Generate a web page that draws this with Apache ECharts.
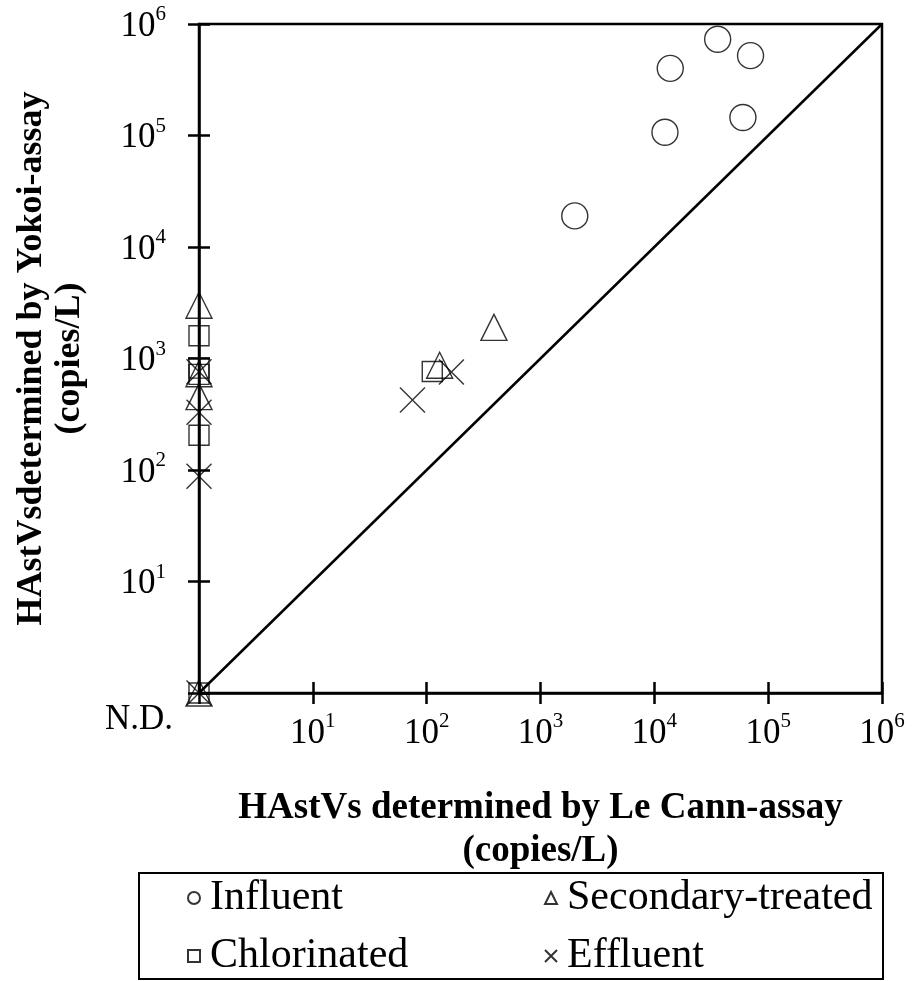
<!DOCTYPE html>
<html>
<head>
<meta charset="utf-8">
<script src="https://cdn.jsdelivr.net/npm/echarts@6/dist/echarts.min.js"></script>
<style>
  html, body { margin: 0; padding: 0; background: #fff; }
  #chart { width: 915px; height: 981px; }
</style>
</head>
<body>
<div id="chart"></div>
<script>
// tick labels: exponent shown as superscript, 10^0 is "N.D."
const tickExponents = [0, 1, 2, 3, 4, 5, 6];
const ndLabel = "N.D.";

// N.D. values are plotted at 1 (the axis minimum)
const influentX = [3.6e4, 7.0e4, 1.38e4, 6.0e4, 1.24e4, 2.0e3];
const influentY = [7.3e5, 5.2e5, 4.0e5, 1.45e5, 1.07e5, 1.9e4];

const secondaryX = [1, 1, 1, 390, 130, 1];
const secondaryY = [3.0e3, 730, 455, 1.9e3, 870, 1];

const chlorinatedX = [1, 1, 1, 1, 112, 1];
const chlorinatedY = [1.6e3, 820, 720, 205, 765, 1];

const effluentX = [1, 1, 1, 165, 75, 1];
const effluentY = [760, 330, 88, 755, 425, 1];

const lineX = [1, 1e6];
const lineY = [1, 1e6];

function pairs(xs, ys) {
  return xs.map(function (x, i) { return [x, ys[i]]; });
}

var chartDom = document.getElementById("chart");
var myChart = echarts.init(chartDom);
var serif = "Liberation Serif";

var xRich = {
  b: { fontFamily: serif, fontSize: 35, color: "#000", lineHeight: 40, verticalAlign: "bottom" },
  s: { fontFamily: serif, fontSize: 21, color: "#000", lineHeight: 26, verticalAlign: "top" }
};
var yRich = {
  b: { fontFamily: serif, fontSize: 35, color: "#000", lineHeight: 40, verticalAlign: "bottom" },
  s: { fontFamily: serif, fontSize: 21, color: "#000", lineHeight: 26, verticalAlign: "top", padding: [0, 7, 0, 0] },
  nd: { fontFamily: serif, fontSize: 35, color: "#000", lineHeight: 40, padding: [54, 0, 0, 0] }
};

function expOf(v) {
  return Math.round(Math.log(v) / Math.LN10);
}

function yLabel(v) {
  var e = expOf(v);
  if (e === tickExponents[0]) return "{nd|" + ndLabel + "}";
  return "{b|10}{s|" + e + "}";
}

function xLabel(v) {
  var e = expOf(v);
  if (e === tickExponents[0]) return "";
  return "{b|10}{s|" + e + "}";
}

var markStyle = { color: "rgba(0,0,0,0)", borderColor: "#000", borderWidth: 1.4 };
var crossPath = "path://M0,0L10,10M10,0L0,10";

var logAxis = {
  type: "log",
  logBase: 10,
  min: 1,
  max: 1e6,
  splitLine: { show: false }
};

// one legend per entry so the 2x2 layout is exact
function legendItem(name, left, top) {
  return {
    left: left, top: top,
    itemWidth: 12, itemHeight: 12,
    textStyle: { fontFamily: serif, fontSize: 42, color: "#000", padding: [0, 0, 0, 5] },
    data: [name]
  };
}

var option = {
  animation: false,
  backgroundColor: "#fff",
  grid: {
    left: 199, right: 33, top: 24, bottom: 288,
    show: true, borderColor: "#000", borderWidth: 2.5,
    backgroundColor: "rgba(0,0,0,0)"
  },
  xAxis: [
    Object.assign({}, logAxis, {
      position: "bottom",
      axisLine: { show: true, lineStyle: { color: "#000", width: 2.5 } },
      axisTick: { show: true, inside: false, length: 11, lineStyle: { color: "#000", width: 2.5 } },
      axisLabel: { margin: 18, formatter: xLabel, rich: xRich },
      name: "HAstVs determined by Le Cann-assay\n(copies/L)",
      nameLocation: "middle",
      nameGap: 94,
      nameTextStyle: { fontFamily: serif, fontWeight: "bold", fontSize: 37, color: "#000", lineHeight: 43 }
    }),
    Object.assign({}, logAxis, {
      position: "bottom",
      axisLine: { show: false },
      axisTick: { show: true, inside: true, length: 11, lineStyle: { color: "#000", width: 2.5 } },
      axisLabel: { show: false }
    })
  ],
  yAxis: [
    Object.assign({}, logAxis, {
      position: "left",
      axisLine: { show: true, lineStyle: { color: "#000", width: 2.5 } },
      axisTick: { show: true, inside: false, length: 11, lineStyle: { color: "#000", width: 2.5 } },
      axisLabel: { margin: 26, formatter: yLabel, rich: yRich },
      name: "HAstVsdetermined by Yokoi-assay\n(copies/L)",
      nameLocation: "middle",
      nameRotate: 90,
      nameGap: 110,
      nameTextStyle: { fontFamily: serif, fontWeight: "bold", fontSize: 36, color: "#000", lineHeight: 38 }
    }),
    Object.assign({}, logAxis, {
      position: "left",
      axisLine: { show: false },
      axisTick: { show: true, inside: true, length: 11, lineStyle: { color: "#000", width: 2.5 } },
      axisLabel: { show: false }
    })
  ],
  legend: [
    legendItem("Influent", 182, 872),
    legendItem("Chlorinated", 182, 930),
    legendItem("Secondary-treated", 539, 872),
    legendItem("Effluent", 539, 930)
  ],
  graphic: [
    {
      type: "rect",
      shape: { x: 139, y: 873, width: 744, height: 106 },
      style: { fill: "none", stroke: "#000", lineWidth: 2 },
      z: 10
    }
  ],
  series: [
    {
      name: "1:1",
      type: "line",
      data: pairs(lineX, lineY),
      symbol: "none",
      lineStyle: { color: "#000", width: 2.5 },
      z: 1
    },
    {
      name: "Influent",
      type: "scatter",
      symbol: "circle",
      symbolSize: 26,
      itemStyle: markStyle,
      data: pairs(influentX, influentY)
    },
    {
      name: "Secondary-treated",
      type: "scatter",
      symbol: "triangle",
      symbolSize: 26,
      itemStyle: markStyle,
      data: pairs(secondaryX, secondaryY)
    },
    {
      name: "Chlorinated",
      type: "scatter",
      symbol: "rect",
      symbolSize: 20,
      itemStyle: markStyle,
      data: pairs(chlorinatedX, chlorinatedY)
    },
    {
      name: "Effluent",
      type: "scatter",
      symbol: crossPath,
      symbolSize: 25,
      itemStyle: markStyle,
      data: pairs(effluentX, effluentY)
    }
  ]
};

option && myChart.setOption(option);
</script>
</body>
</html>
